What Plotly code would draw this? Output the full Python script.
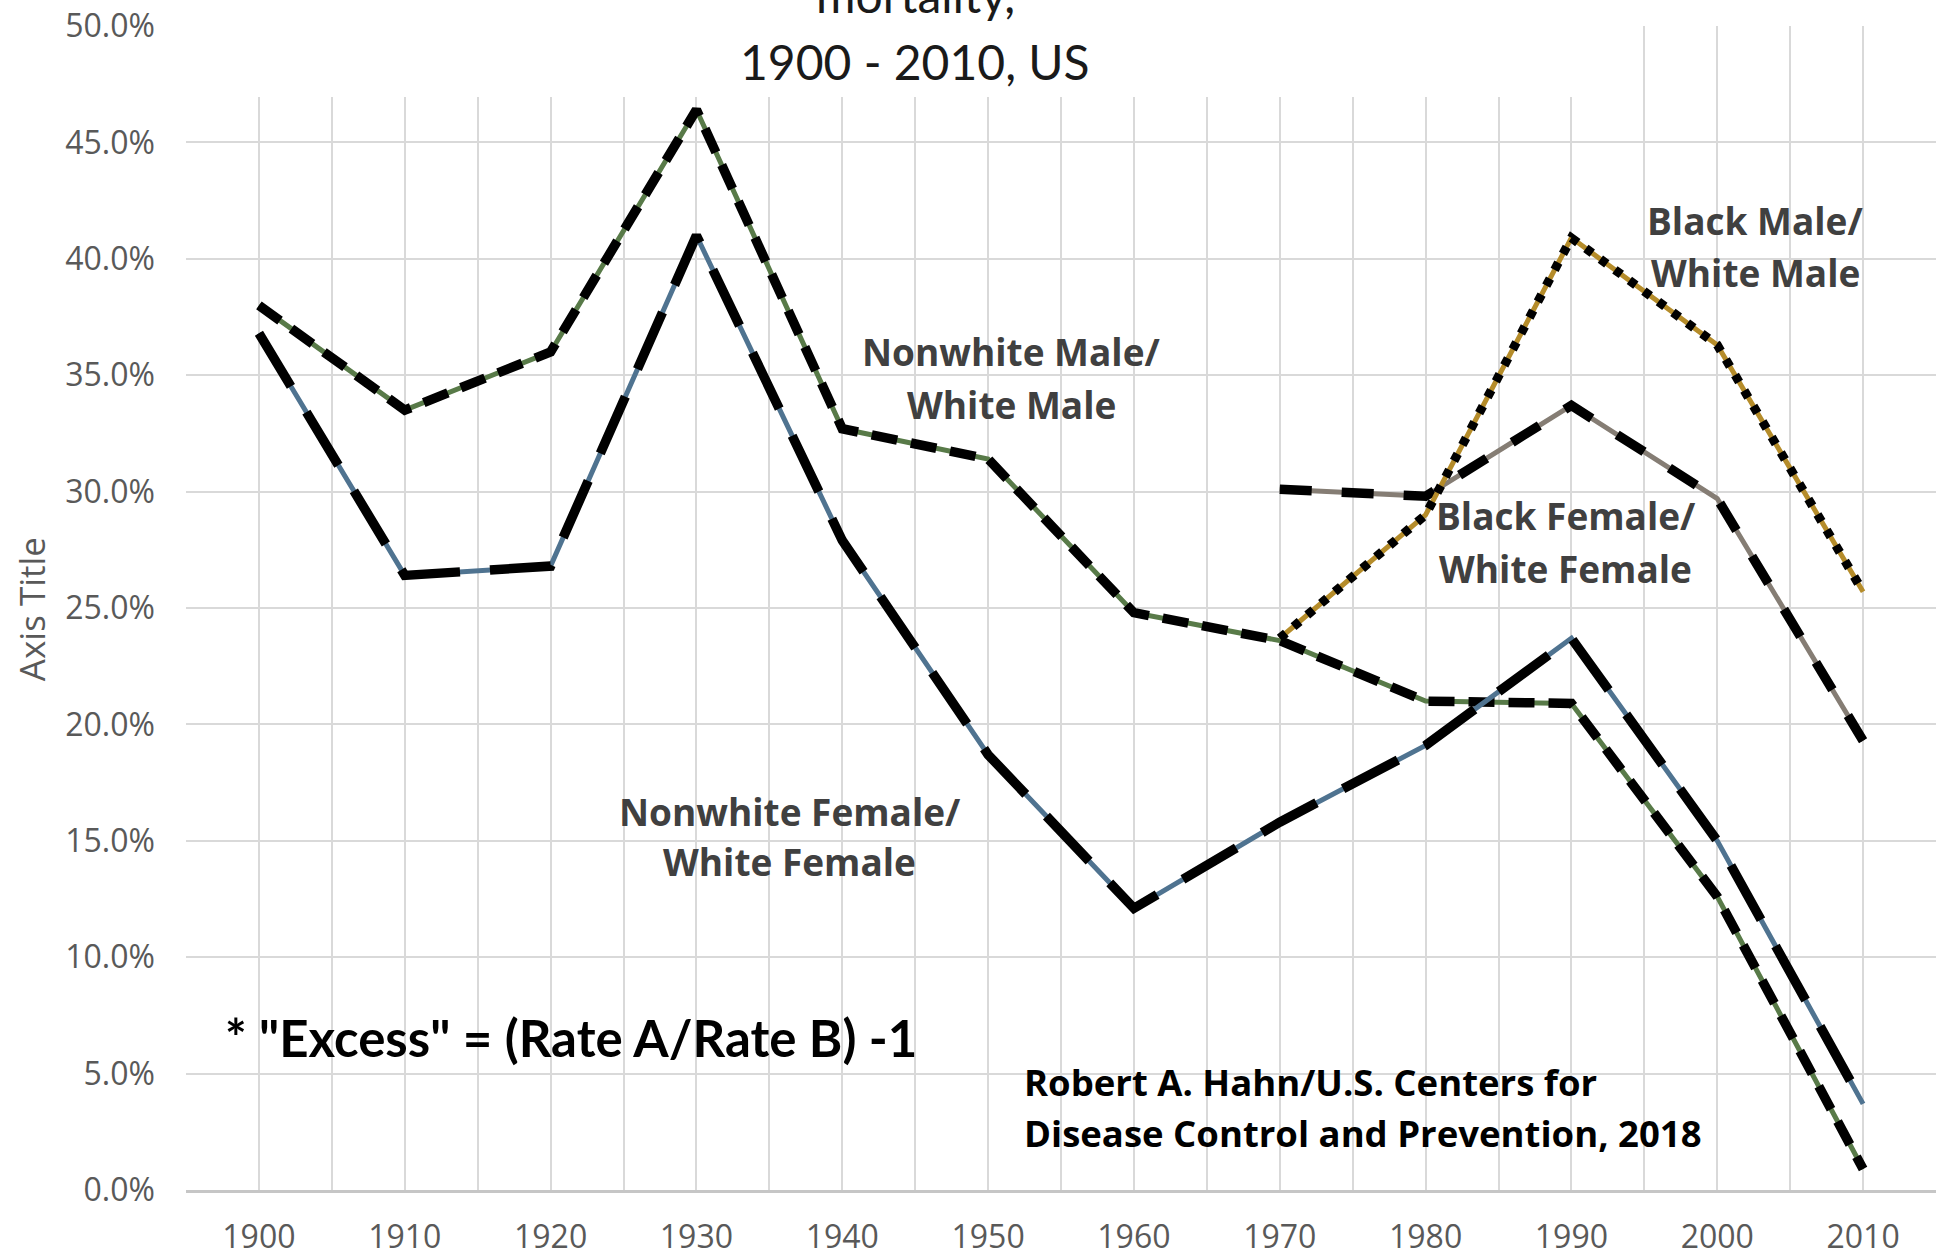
import plotly.graph_objects as go

years = [1900, 1910, 1920, 1930, 1940, 1950, 1960, 1970, 1980, 1990, 2000, 2010]
years_b = [1970, 1980, 1990, 2000, 2010]

nonwhite_male = [0.380, 0.335, 0.360, 0.464, 0.327, 0.314, 0.248, 0.236, 0.210, 0.209, 0.126, 0.009]
nonwhite_female = [0.368, 0.264, 0.268, 0.410, 0.279, 0.187, 0.121, 0.158, 0.191, 0.237, 0.150, 0.037]
black_male = [0.237, 0.290, 0.409, 0.363, 0.257]
black_female = [0.301, 0.298, 0.337, 0.297, 0.193]

series = [
    dict(x=years, y=nonwhite_male, color="#587a48", dash="26px,14px", w=9.5),
    dict(x=years, y=nonwhite_female, color="#4f7390", dash="62px,30px", w=9.5),
    dict(x=years_b, y=black_female, color="#857d74", dash="32px,30px", w=9.5),
    dict(x=years_b, y=black_male, color="#b58c2a", dash="8px,10px", w=9),
]

fig = go.Figure()
for s in series:
    fig.add_trace(go.Scatter(x=s["x"], y=s["y"], mode="lines",
                             line=dict(color=s["color"], width=5), hoverinfo="skip"))
    fig.add_trace(go.Scatter(x=s["x"], y=s["y"], mode="lines",
                             line=dict(color="#000000", width=s["w"], dash=s["dash"]),
                             hoverinfo="skip"))

label_font = dict(family="Open Sans", size=37, color="#404040", weight="bold")
labels = [
    (1951.6, 0.3602, "Nonwhite Male/"), (1951.6, 0.3375, "White Male"),
    (1936.4, 0.1624, "Nonwhite Female/"), (1936.4, 0.1410, "White Female"),
    (2002.6, 0.4166, "Black Male/"), (2002.6, 0.3940, "White Male"),
    (1989.6, 0.2898, "Black Female/"), (1989.6, 0.2670, "White Female"),
]
for x, y, t in labels:
    fig.add_annotation(x=x, y=y, xref="x", yref="y", text=t, showarrow=False,
                       font=label_font, xanchor="center", yanchor="middle")

fig.add_annotation(x=1921.4, y=0.0655, xref="x", yref="y",
                   text='* "Excess" = (Rate A/Rate B) -1', showarrow=False,
                   font=dict(family="Lato", size=51, color="#000000", weight="bold"),
                   xanchor="center", yanchor="middle")
for y, t in [(0.0466, "Robert A. Hahn/U.S. Centers for"),
             (0.0243, "Disease Control and Prevention, 2018")]:
    fig.add_annotation(x=1952.3, y=y, xref="x", yref="y", text=t, showarrow=False,
                       font=dict(family="Open Sans", size=36.5, color="#000000", weight="bold"),
                       xanchor="left", yanchor="middle")

# title (top line partially cut off, as in the reference)
title_font = dict(family="Lato", size=48, color="#1a1a1a")
fig.add_annotation(x=(915 - 186) / 1750, y=1.0274, xref="paper", yref="paper",
                   text="mortality,", showarrow=False, font=title_font,
                   xanchor="center", yanchor="middle")
fig.add_annotation(x=(915 - 186) / 1750, y=0.9691, xref="paper", yref="paper",
                   text="1900 - 2010, US", showarrow=False, font=title_font,
                   xanchor="center", yanchor="middle")

# y axis title
fig.add_annotation(x=(31 - 186) / 1750, y=(1192.7 - 611) / 1165.7, xref="paper", yref="paper",
                   text="Axis Title", showarrow=False, textangle=-90,
                   font=dict(family="Open Sans", size=35, color="#595959"),
                   xanchor="center", yanchor="middle")

# white area hiding top of grid (behind title)
fig.add_shape(type="rect", xref="x", yref="y", x0=1890, x1=1994.9, y0=0.4695, y1=0.52,
              fillcolor="white", line=dict(width=0), layer="between")

fig.update_layout(
    width=1936, height=1257,
    margin=dict(l=186, r=0, t=26, b=63),
    paper_bgcolor="white", plot_bgcolor="white",
    showlegend=False,
    xaxis=dict(range=[1895, 2015], tick0=1900, dtick=10, showgrid=True,
               gridcolor="#d9d9d9", gridwidth=2, zeroline=False,
               showline=True, linecolor="#c6c6c6", linewidth=2.5,
               ticks="", ticklabelstandoff=17,
               tickfont=dict(family="Open Sans", size=32, color="#595959"),
               minor=dict(dtick=5, showgrid=True, gridcolor="#d9d9d9", gridwidth=2)),
    yaxis=dict(range=[0, 0.5], dtick=0.05, tickformat=".1%", showgrid=True,
               gridcolor="#d9d9d9", gridwidth=2, zeroline=False, ticks="",
               ticklabelstandoff=30,
               tickfont=dict(family="Open Sans", size=32, color="#595959")),
)

fig.write_html("out.html", config={"displayModeBar": False},
               post_script="document.body.style.margin='0';document.body.style.overflow='hidden';")
